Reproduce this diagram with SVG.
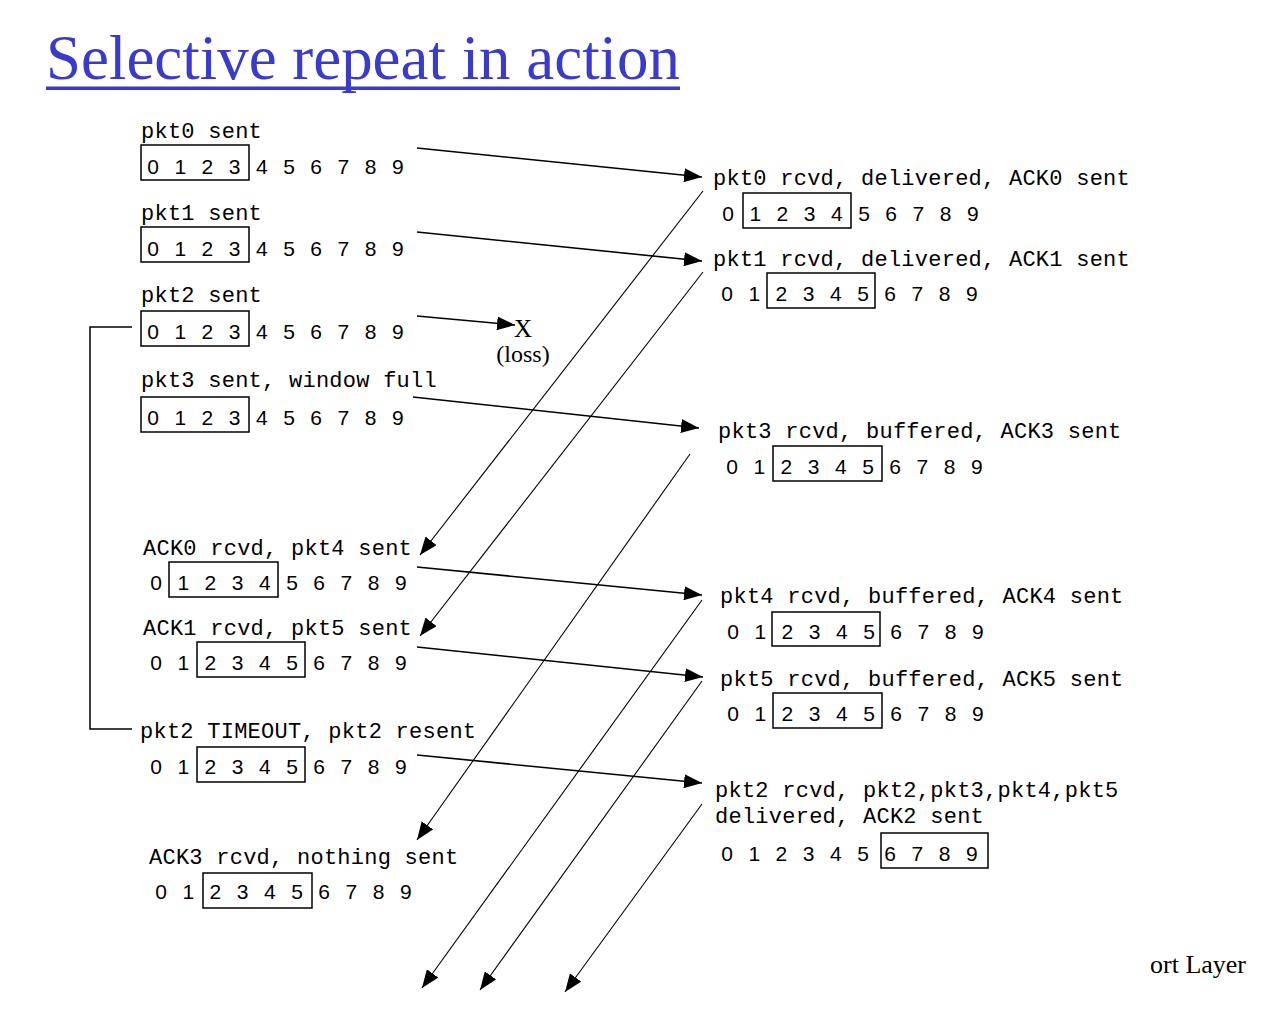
<svg xmlns="http://www.w3.org/2000/svg" width="1274" height="1024" viewBox="0 0 1274 1024">
<style>
.lbl{font-family:"Liberation Mono","DejaVu Sans Mono",monospace;font-size:22px;letter-spacing:0.25px;fill:#000}
.dg{font-family:"Liberation Sans",Arial,sans-serif;font-size:21px;letter-spacing:4.84px;fill:#000}
.box{fill:none;stroke:#000;stroke-width:1.5}
.fw{stroke:#000;stroke-width:1.6;fill:none}
.bk{stroke:#000;stroke-width:1.1;fill:none}
.serif{font-family:"Liberation Serif","Times New Roman",serif;fill:#000}
</style>
<defs>
<marker id="ah" markerUnits="userSpaceOnUse" markerWidth="18" markerHeight="14" refX="18" refY="7" orient="auto">
<path d="M0,0 L18,7 L0,14 z" fill="#000"/>
</marker>
</defs>
<rect width="1274" height="1024" fill="#fff"/>

<g id="title">
<text x="46" y="79" font-family="Liberation Serif,'Times New Roman',serif" font-size="64" fill="#3A3ACC" textLength="634" lengthAdjust="spacingAndGlyphs">Selective repeat in action</text>
<rect x="46" y="86.5" width="634" height="3.5" fill="#3A3ACC"/>
</g>

<!-- sender states -->
<g id="s-pkt0">
<text class="lbl" x="141" y="138">pkt0 sent</text>
<rect class="box" x="141" y="145" width="108" height="35"/>
<text class="dg" x="147.2" y="174">0 1 2 3 4 5 6 7 8 9</text>
</g>
<g id="s-pkt1">
<text class="lbl" x="141" y="220">pkt1 sent</text>
<rect class="box" x="141" y="227" width="108" height="35"/>
<text class="dg" x="147.2" y="256">0 1 2 3 4 5 6 7 8 9</text>
</g>
<g id="s-pkt2">
<text class="lbl" x="141" y="302">pkt2 sent</text>
<rect class="box" x="141" y="311" width="108" height="35"/>
<text class="dg" x="147.2" y="339">0 1 2 3 4 5 6 7 8 9</text>
</g>
<g id="s-pkt3">
<text class="lbl" x="141" y="387">pkt3 sent, window full</text>
<rect class="box" x="141" y="397" width="108" height="35"/>
<text class="dg" x="147.2" y="425">0 1 2 3 4 5 6 7 8 9</text>
</g>
<g id="s-ack0">
<text class="lbl" x="143" y="555">ACK0 rcvd, pkt4 sent</text>
<rect class="box" x="169" y="562" width="109" height="35"/>
<text class="dg" x="150.2" y="590">0 1 2 3 4 5 6 7 8 9</text>
</g>
<g id="s-ack1">
<text class="lbl" x="143" y="635">ACK1 rcvd, pkt5 sent</text>
<rect class="box" x="197" y="642" width="108" height="35"/>
<text class="dg" x="150.2" y="670">0 1 2 3 4 5 6 7 8 9</text>
</g>
<g id="s-timeout">
<text class="lbl" x="140" y="738">pkt2 TIMEOUT, pkt2 resent</text>
<rect class="box" x="197" y="747" width="108" height="35"/>
<text class="dg" x="150.2" y="774">0 1 2 3 4 5 6 7 8 9</text>
</g>
<g id="s-ack3">
<text class="lbl" x="149" y="864">ACK3 rcvd, nothing sent</text>
<rect class="box" x="203" y="873" width="109" height="35"/>
<text class="dg" x="155.2" y="899">0 1 2 3 4 5 6 7 8 9</text>
</g>

<!-- receiver states -->
<g id="r-pkt0">
<text class="lbl" x="713" y="185">pkt0 rcvd, delivered, ACK0 sent</text>
<rect class="box" x="743" y="193" width="108" height="35"/>
<text class="dg" x="722.2" y="221">0 1 2 3 4 5 6 7 8 9</text>
</g>
<g id="r-pkt1">
<text class="lbl" x="713" y="266">pkt1 rcvd, delivered, ACK1 sent</text>
<rect class="box" x="767" y="273" width="108" height="35"/>
<text class="dg" x="721.2" y="301">0 1 2 3 4 5 6 7 8 9</text>
</g>
<g id="r-pkt3">
<text class="lbl" x="718" y="438">pkt3 rcvd, buffered, ACK3 sent</text>
<rect class="box" x="773" y="446" width="109" height="35"/>
<text class="dg" x="726.2" y="474">0 1 2 3 4 5 6 7 8 9</text>
</g>
<g id="r-pkt4">
<text class="lbl" x="720" y="603">pkt4 rcvd, buffered, ACK4 sent</text>
<rect class="box" x="772" y="612" width="108" height="34"/>
<text class="dg" x="727.2" y="639">0 1 2 3 4 5 6 7 8 9</text>
</g>
<g id="r-pkt5">
<text class="lbl" x="720" y="686">pkt5 rcvd, buffered, ACK5 sent</text>
<rect class="box" x="773" y="693" width="109" height="35"/>
<text class="dg" x="727.2" y="721">0 1 2 3 4 5 6 7 8 9</text>
</g>
<g id="r-pkt2">
<text class="lbl" x="715" y="797">pkt2 rcvd, pkt2,pkt3,pkt4,pkt5</text>
<text class="lbl" x="715" y="823">delivered, ACK2 sent</text>
<rect class="box" x="881" y="833" width="107" height="35"/>
<text class="dg" x="721.2" y="861">0 1 2 3 4 5 6 7 8 9</text>
</g>

<g id="loss">
<text class="serif" x="523" y="337" font-size="25" text-anchor="middle">X</text>
<text class="serif" x="523" y="362" font-size="24" text-anchor="middle">(loss)</text>
</g>

<g id="footer">
<text class="serif" x="1150" y="973" font-size="26">ort Layer</text>
</g>

<g id="connectors">
<path class="box" d="M132,327 H90 V729 H132"/>
<line class="fw" x1="417" y1="148" x2="702" y2="177" marker-end="url(#ah)"/>
<line class="fw" x1="417" y1="232" x2="702" y2="261" marker-end="url(#ah)"/>
<line class="fw" x1="417" y1="316" x2="515" y2="325" marker-end="url(#ah)"/>
<line class="fw" x1="413" y1="397" x2="699" y2="428" marker-end="url(#ah)"/>
<line class="fw" x1="417" y1="567" x2="702" y2="595" marker-end="url(#ah)"/>
<line class="fw" x1="417" y1="647" x2="703" y2="677" marker-end="url(#ah)"/>
<line class="fw" x1="417" y1="755" x2="702" y2="783" marker-end="url(#ah)"/>
<line class="bk" x1="703" y1="191" x2="420" y2="555" marker-end="url(#ah)"/>
<line class="bk" x1="703" y1="272" x2="420" y2="636" marker-end="url(#ah)"/>
<line class="bk" x1="690" y1="454" x2="417" y2="840" marker-end="url(#ah)"/>
<line class="bk" x1="702" y1="600" x2="422" y2="988" marker-end="url(#ah)"/>
<line class="bk" x1="702" y1="681" x2="480" y2="990" marker-end="url(#ah)"/>
<line class="bk" x1="702" y1="804" x2="565" y2="992" marker-end="url(#ah)"/>
</g>
</svg>
